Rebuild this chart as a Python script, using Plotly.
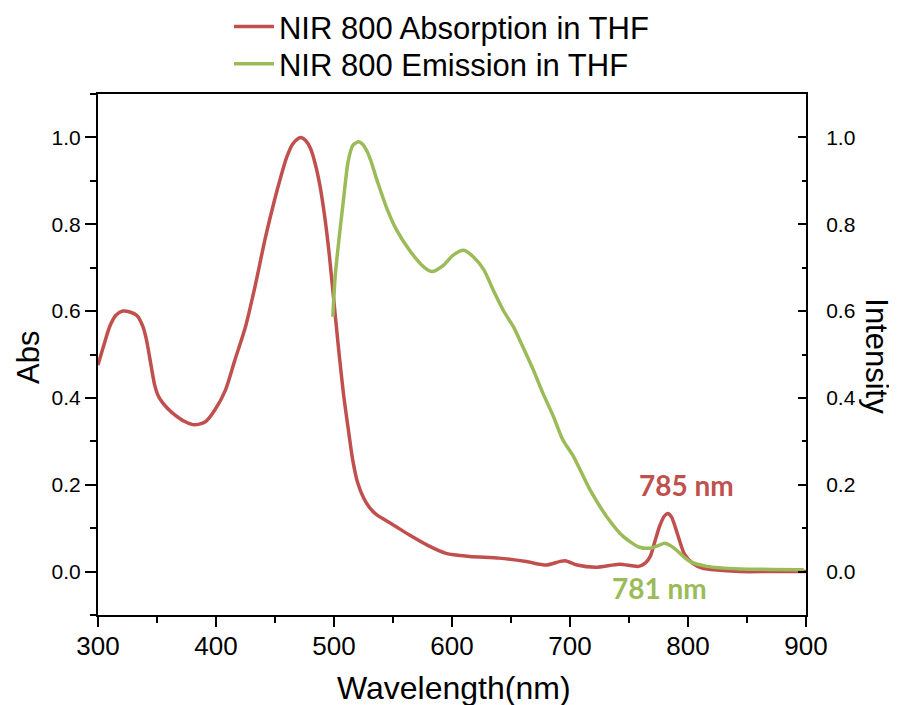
import plotly.graph_objects as go

# Absorption (left axis)
wl_abs = [300, 305, 310, 315, 321, 327, 333, 338, 341, 344, 348, 351, 355, 362,
          374, 382, 391, 399, 408, 416, 425, 433, 442, 450, 455, 460, 465, 470,
          472, 476, 480, 484, 488, 492, 496, 500, 504, 508, 512, 516, 520, 525,
          530, 536, 550, 564, 579, 595, 615, 640, 663, 680, 691, 696, 706, 722,
          742, 758, 764, 768, 772, 776, 780, 783, 786, 789, 793, 797, 804, 812,
          822, 844, 870, 900]
absorb = [0.476, 0.522, 0.565, 0.59, 0.600, 0.598, 0.59, 0.565, 0.535, 0.49,
          0.43, 0.405, 0.388, 0.368, 0.345, 0.338, 0.345, 0.372, 0.418, 0.487,
          0.564, 0.656, 0.771, 0.86, 0.91, 0.955, 0.985, 0.998, 1.0, 0.993,
          0.975, 0.94, 0.89, 0.82, 0.73, 0.62, 0.51, 0.41, 0.33, 0.255, 0.205,
          0.17, 0.148, 0.131, 0.108, 0.084, 0.061, 0.042, 0.035, 0.031, 0.023,
          0.015, 0.023, 0.025, 0.015, 0.010, 0.017, 0.012, 0.02, 0.035, 0.07,
          0.105, 0.128, 0.134, 0.126, 0.104, 0.07, 0.04, 0.019, 0.008, 0.004,
          0.0, 0.0, 0.0]

# Emission (right axis)
wl_em = [499, 501, 504, 508, 512, 516, 521, 524, 528, 532, 536, 541, 545, 553,
         564, 576, 583, 593, 601, 610, 618, 627, 635, 644, 652, 660, 669, 677,
         686, 694, 703, 717, 731, 745, 759, 768, 775, 780, 785, 790, 796, 802,
         816, 844, 870, 898]
emis = [0.587, 0.68, 0.76, 0.856, 0.945, 0.982, 0.99, 0.985, 0.968, 0.94,
        0.905, 0.865, 0.835, 0.787, 0.740, 0.702, 0.691, 0.706, 0.729, 0.740,
        0.725, 0.695, 0.648, 0.599, 0.564, 0.518, 0.464, 0.411, 0.357, 0.303,
        0.265, 0.188, 0.127, 0.081, 0.056, 0.054, 0.060, 0.065, 0.060, 0.050,
        0.035, 0.023, 0.012, 0.006, 0.005, 0.004]

y_ticks = [0.0, 0.2, 0.4, 0.6, 0.8, 1.0]
y_ticklabels = ["0.0", "0.2", "0.4", "0.6", "0.8", "1.0"]
x_ticks = [300, 400, 500, 600, 700, 800, 900]

RED = "#C0504D"
GREEN = "#9BBB59"
FONT = "Liberation Sans, Arial, sans-serif"

fig = go.Figure()
fig.add_trace(go.Scatter(x=wl_abs, y=absorb, mode="lines", legend="legend",
                         name="NIR 800 Absorption in THF",
                         line=dict(color=RED, width=3.5, shape="spline", smoothing=0.7)))
fig.add_trace(go.Scatter(x=wl_em, y=emis, mode="lines", yaxis="y2", legend="legend2",
                         name="NIR 800 Emission in THF",
                         line=dict(color=GREEN, width=3.5, shape="spline", smoothing=0.7)))

legend_common = dict(xanchor="left", yanchor="middle",
                     font=dict(size=31, family=FONT, color="black"),
                     bgcolor="rgba(0,0,0,0)", itemwidth=40)

PLOT_H = 521  # plot-area height in px (705 - top - bottom margins)

fig.update_layout(
    width=897, height=705,
    margin=dict(l=90, r=99, t=86, b=98, autoexpand=False),
    paper_bgcolor="white", plot_bgcolor="white",
    font=dict(family=FONT, color="black"),
    showlegend=True,
    legend=dict(x=0.185, y=1.129, **legend_common),
    legend2=dict(x=0.185, y=1.0575, **legend_common),
    xaxis=dict(range=[300, 900], tickvals=x_ticks, ticks="outside", ticklen=10,
               tickwidth=2, tickcolor="black", showline=True, linecolor="black",
               linewidth=2, mirror=True, showgrid=False, zeroline=False,
               automargin=False, tickfont=dict(size=26), ticklabelstandoff=-3,
               minor=dict(dtick=50, ticks="outside", ticklen=6, tickwidth=2,
                          tickcolor="black", showgrid=False)),
    yaxis=dict(range=[-0.1, 1.1], tickvals=y_ticks, ticktext=y_ticklabels,
               ticks="outside", ticklen=11, tickwidth=2, tickcolor="black",
               showline=True, linecolor="black", linewidth=2, showgrid=False,
               zeroline=False, automargin=False, tickfont=dict(size=21),
               minor=dict(dtick=0.1, tick0=0, ticks="outside", ticklen=6, tickwidth=2,
                          tickcolor="black", showgrid=False)),
    yaxis2=dict(range=[-0.1, 1.1], tickvals=y_ticks, ticktext=y_ticklabels,
                overlaying="y", side="right", anchor="x",
                ticks="inside", ticklen=8, tickwidth=2, tickcolor="black",
                showline=True, linecolor="black", linewidth=2, showgrid=False,
                zeroline=False, automargin=False, tickfont=dict(size=21),
                ticklabelstandoff=14,
                minor=dict(dtick=0.1, tick0=0, ticks="inside", ticklen=4, tickwidth=2,
                           tickcolor="black", showgrid=False)),
    annotations=[
        dict(text="<b>785 nm</b>", x=799, y=0.2, xref="x", yref="y",
             xanchor="center", yanchor="middle",
             showarrow=False, font=dict(family="Lato, sans-serif", size=28, color=RED)),
        dict(text="<b>781 nm</b>", x=775.5, y=-0.0375, xref="x", yref="y",
             xanchor="center", yanchor="middle",
             showarrow=False, font=dict(family="Lato, sans-serif", size=28, color=GREEN)),
        dict(text="Wavelength(nm)", x=0.503, y=-(688 - 615) / PLOT_H,
             xref="paper", yref="paper", xanchor="center", yanchor="middle",
             showarrow=False, font=dict(size=32, family=FONT)),
        dict(text="Abs", x=-0.099, y=0.495, xref="paper", yref="paper",
             xanchor="center", yanchor="middle",
             textangle=-90, showarrow=False, font=dict(size=31, family=FONT)),
        dict(text="Intensity", x=1.1, y=0.497, xref="paper", yref="paper",
             xanchor="center", yanchor="middle",
             textangle=90, showarrow=False, font=dict(size=31, family=FONT)),
    ],
)

fig.write_html("out.html")
